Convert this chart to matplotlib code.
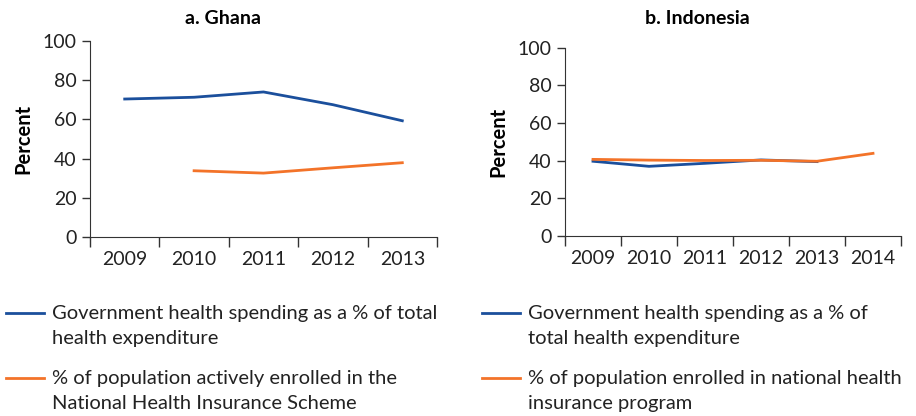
import numpy as np
import matplotlib.pyplot as plt
from matplotlib.lines import Line2D

plt.rcParams['font.family'] = ['Lato', 'DejaVu Sans']

# Ghana
gh_years = ["2009", "2010", "2011", "2012", "2013"]
gh_gov = [70.4, 71.3, 74.0, 67.5, 59.3]
gh_nhis = [np.nan, 33.8, 32.6, 35.3, 37.9]

# Indonesia
id_years = ["2009", "2010", "2011", "2012", "2013", "2014"]
id_gov = [39.6, 36.9, 38.5, 40.3, 39.4, np.nan]
id_nhi = [40.6, 40.2, 40.0, 40.1, 39.6, 43.8]

blue = "#1B4F9C"
orange = "#F37329"
axcol = "#333333"

fig = plt.figure(figsize=(9.16, 4.16), dpi=100)


def panel(rect, years, gov, ins):
    ax = fig.add_axes(rect)
    x = np.arange(len(years))
    ax.plot(x, gov, color=blue, lw=2)
    ax.plot(x, ins, color=orange, lw=2)
    ax.set_xlim(-0.5, len(years) - 0.5)
    ax.set_ylim(0, 100)
    ax.set_yticks(range(0, 101, 20))
    ax.set_xticks(x)
    ax.set_xticklabels(years)
    ax.set_xticks(np.arange(len(years) + 1) - 0.5, minor=True)
    ax.tick_params(axis="x", which="major", length=0, pad=10, labelsize=14, colors="#222222")
    ax.tick_params(axis="x", which="minor", length=7, width=1, color=axcol)
    ax.tick_params(axis="y", length=6, width=1, color=axcol, labelsize=14, labelcolor="#222222")
    for s in ["top", "right"]:
        ax.spines[s].set_visible(False)
    for s in ["left", "bottom"]:
        ax.spines[s].set_color(axcol)
    ax.set_ylabel("Percent", fontsize=14.5, fontweight="bold", labelpad=7)
    return ax


ax1 = panel([90 / 916, 179 / 416, 347 / 916, 196 / 416], gh_years, gh_gov, gh_nhis)
ax2 = panel([565 / 916, 180.3 / 416, 336 / 916, 188 / 416], id_years, id_gov, id_nhi)

fig.text(223 / 916, 1 - 19 / 416, "a. Ghana", ha="center", va="center", fontsize=14, fontweight="bold")
fig.text(697 / 916, 1 - 19 / 416, "b. Indonesia", ha="center", va="center", fontsize=14, fontweight="bold")

# legends
leg_items = [
    (6, 313, blue, "Government health spending as a % of total\nhealth expenditure"),
    (6, 378, orange, "% of population actively enrolled in the\nNational Health Insurance Scheme"),
    (482, 313, blue, "Government health spending as a % of\ntotal health expenditure"),
    (482, 378, orange, "% of population enrolled in national health\ninsurance program"),
]
for lx, ly, c, txt in leg_items:
    y = 1 - ly / 416
    fig.add_artist(Line2D([lx / 916, (lx + 38) / 916], [y, y], color=c, lw=2))
    fig.text((lx + 46) / 916, y + 8 / 416, txt, ha="left", va="top", fontsize=14.5,
             color="#222222", linespacing=1.6)

fig.savefig("out.png", dpi=100)
